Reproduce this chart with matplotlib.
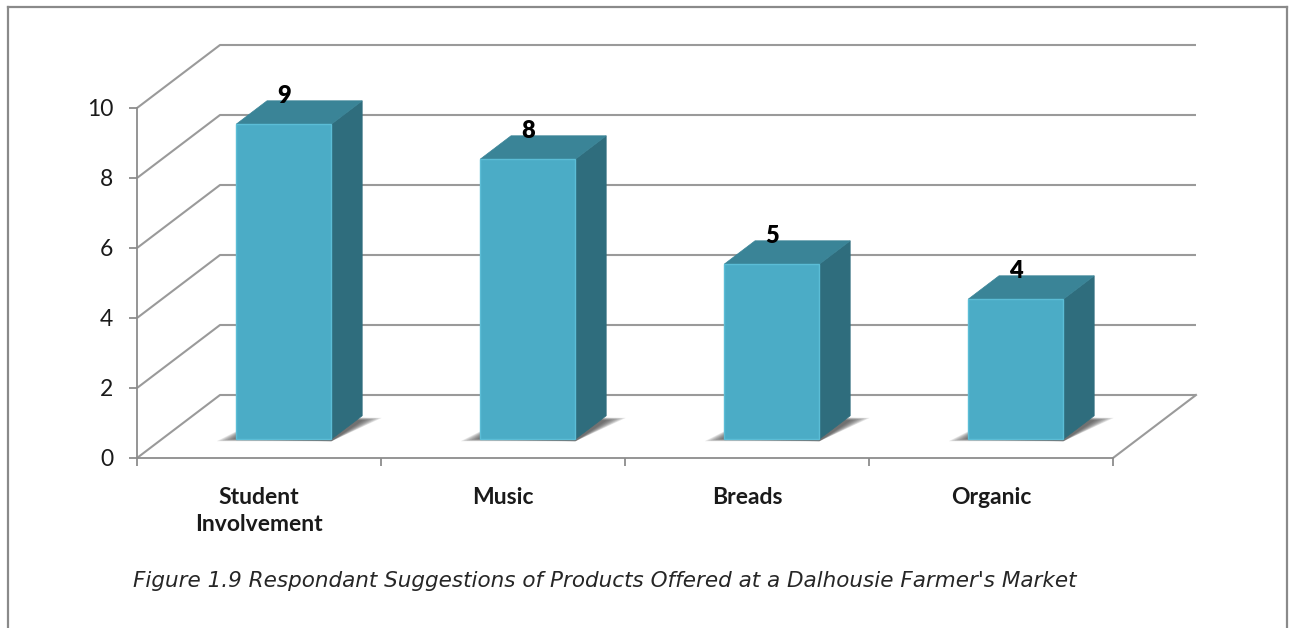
import matplotlib
matplotlib.use("Agg")
import matplotlib.pyplot as plt
from matplotlib.patches import Polygon
from matplotlib.lines import Line2D

# data
categories = ["Student\nInvolvement", "Music", "Breads", "Organic"]
values = [9, 8, 5, 4]
yticks = [0, 2, 4, 6, 8, 10]
title = "Figure 1.9 Respondant Suggestions of Products Offered at a Dalhousie Farmer's Market"

plt.rcParams['font.family'] = ['Lato', 'DejaVu Sans']

W, H = 1291, 628
fig = plt.figure(figsize=(W / 100, H / 100), dpi=100)
fig.patch.set_facecolor('white')

# front plane of the 3d box, in pixels
ax = fig.add_axes([137 / W, (H - 458) / H, 976 / W, 350 / H])
ax.set_xlim(0, len(categories))
ax.set_ylim(0, 10)
ax.patch.set_visible(False)

# depth of the box in data units
DX = 83 / 244
DY = 63 / 35
F0 = 0.30   # bar front, fraction of depth
BD = 0.37   # bar depth, fraction of depth
BW = 0.39   # bar width

grid_c = '#9a9a9a'
axis_c = '#8c8c8c'
front_c = '#4bacc6'
side_c = '#2f6d7d'
top_c = '#3a8497'

n = len(categories)
# back wall + left wall grid
for v in yticks:
    ax.plot([0, DX, n + DX], [v, v + DY, v + DY], color=grid_c, lw=1.5,
            clip_on=False, zorder=1, solid_capstyle='butt')
ax.plot([n, n + DX], [0, DY], color=grid_c, lw=1.5, clip_on=False, zorder=1)

for i, v in enumerate(values):
    x0 = i + 0.5 - BW / 2 + F0 * DX
    x1 = x0 + BW
    y0 = F0 * DY
    yt = v + F0 * DY
    ddx, ddy = BD * DX, BD * DY

    # soft shadow on the floor
    for k in range(8):
        e = 0.011 * k
        shp = [(x0 - 0.08 + e, y0 - 0.06 + 0.01 * k), (x1, y0 - 0.06),
               (x1 + ddx + 0.08 - e, y0 + ddy - 0.06 - 0.01 * k), (x0 + ddx, y0 + ddy)]
        ax.add_patch(Polygon(shp, closed=True, facecolor='#303030',
                             edgecolor='none', alpha=0.13, zorder=2, clip_on=False))

    front = [(x0, y0), (x1, y0), (x1, yt), (x0, yt)]
    side = [(x1, y0), (x1 + ddx, y0 + ddy), (x1 + ddx, yt + ddy), (x1, yt)]
    top = [(x0, yt), (x1, yt), (x1 + ddx, yt + ddy), (x0 + ddx, yt + ddy)]
    ax.add_patch(Polygon(side, closed=True, facecolor=side_c, edgecolor=side_c,
                         lw=0.5, zorder=3, clip_on=False))
    ax.add_patch(Polygon(top, closed=True, facecolor=top_c, edgecolor=top_c,
                         lw=0.5, zorder=3, clip_on=False))
    ax.add_patch(Polygon(front, closed=True, facecolor=front_c, edgecolor='#5bbdd6',
                         lw=1.0, zorder=4, clip_on=False))

    ax.annotate(str(v), xy=((x0 + x1) / 2, yt + ddy), xytext=(0, -1.5),
                textcoords='offset points', ha='center', va='baseline',
                fontsize=17, fontweight='heavy', color='black', zorder=6,
                annotation_clip=False)

# axes
for s in ['top', 'right']:
    ax.spines[s].set_visible(False)
for s in ['left', 'bottom']:
    ax.spines[s].set_color(axis_c)
    ax.spines[s].set_linewidth(1.3)
    ax.spines[s].set_zorder(5)

ax.set_yticks(yticks)
ax.tick_params(axis='y', length=6, width=1.3, color=axis_c, labelsize=16.5,
               pad=11, labelcolor='#1a1a1a')
ax.set_xticks(range(n + 1))
ax.set_xticklabels([])
ax.set_xticks([i + 0.5 for i in range(n)], minor=True)
ax.set_xticklabels(categories, minor=True, fontweight='bold', fontsize=16.5,
                   linespacing=1.32)
ax.tick_params(axis='x', which='major', length=6, width=1.3, color=axis_c)
ax.tick_params(axis='x', which='minor', length=0, pad=21, labelcolor='#1a1a1a')
for lab in ax.get_xticklabels(minor=True):
    lab.set_multialignment('center')
    lab.set_verticalalignment('top')

# outer frame
fc = '#8a8a8a'
fig.add_artist(Line2D([8 / W, 8 / W], [0, 1 - 7 / H], color=fc, lw=1.6))
fig.add_artist(Line2D([8 / W, 1287 / W], [1 - 7 / H, 1 - 7 / H], color=fc, lw=1.6))
fig.add_artist(Line2D([1287 / W, 1287 / W], [0, 1 - 7 / H], color=fc, lw=1.6))

fig.text(605 / W, 1 - 581 / H, title, ha='center', va='center',
         fontsize=15.5, style='italic', color='#262626', family='DejaVu Sans')

fig.savefig('out.png', dpi=100)
